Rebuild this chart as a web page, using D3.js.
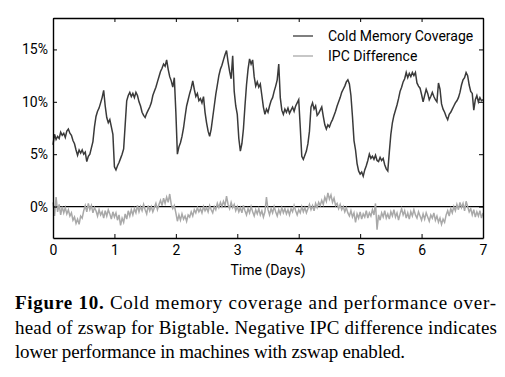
<!DOCTYPE html>
<html>
<head>
<meta charset="utf-8">
<script src="https://cdn.jsdelivr.net/npm/d3@7"></script>
<style>
  body { margin: 0; background: #fff; }
  svg text { font-family: Roboto, "Noto Sans", sans-serif; }
</style>
</head>
<body>
<div id="chart"></div>
<script>
// sample spacing of both series, in days
const STEP = 0.025;

const xTicks = [0, 1, 2, 3, 4, 5, 6, 7];
const yTicks = [0, 5, 10, 15];

const seriesNames = ["Cold Memory Coverage", "IPC Difference"];
const seriesColors = ["#3a3a3a", "#a9a9a9"];

// cold memory coverage (%), one value per STEP
const coldCoverage = [
  5.9, 6.9, 6.4, 6.7, 6.5, 7.1, 6.8, 7.0, 6.6, 7.2,
  7.4, 7.0, 6.8, 6.3, 6.0, 5.4, 4.9, 5.4, 5.1, 5.4,
  5.0, 5.2, 4.3, 4.8, 5.0, 5.6, 6.2, 7.6, 8.6, 9.1,
  9.4, 9.9, 10.4, 11.1, 9.6, 8.5, 8.0, 8.3, 7.6, 6.9,
  3.8, 3.5, 3.9, 4.2, 4.6, 5.0, 5.5, 7.8, 10.1, 10.6,
  10.9, 10.5, 10.8, 10.4, 10.9, 10.6, 10.0, 9.6, 9.0, 8.7,
  8.5, 8.9, 9.2, 9.5, 9.9, 10.6, 11.0, 11.4, 11.9, 12.4,
  12.9, 13.2, 13.6, 13.4, 14.0, 13.1, 12.4, 12.0, 11.4, 12.3,
  9.0, 5.0, 5.7, 6.1, 6.7, 7.5, 8.6, 9.6, 10.2, 10.8,
  11.3, 12.0, 11.2, 10.5, 10.8, 10.1, 10.3, 9.9, 10.5, 9.0,
  8.0, 7.2, 6.7, 7.4, 8.5, 9.6, 10.7, 11.6, 12.5, 13.1,
  13.5, 14.0, 14.5, 14.9, 13.8, 12.9, 12.2, 14.4, 11.0, 9.6,
  8.8, 6.5, 5.3, 6.0, 7.4, 9.6, 11.6, 13.1, 14.1, 13.6,
  14.0, 12.4, 11.5, 11.9, 11.4, 11.7, 10.6, 9.5, 8.8, 9.3,
  9.0, 9.6, 10.1, 10.4, 11.0, 11.5, 12.1, 13.6, 10.4, 9.2,
  8.8, 9.3, 9.0, 9.4, 8.9, 9.2, 9.5, 9.1, 9.6, 9.9,
  10.2, 7.6, 4.8, 4.5, 4.9, 5.3, 6.0, 7.2, 9.5, 9.9,
  9.3, 9.6, 8.7, 8.9, 9.2, 9.5, 8.6, 7.8, 7.4, 7.8,
  7.6, 8.0, 8.3, 8.7, 9.1, 9.6, 10.0, 10.4, 10.9, 11.2,
  11.5, 11.9, 12.1, 11.7, 10.6, 8.6, 6.3, 5.4, 4.1, 3.4,
  3.1, 3.3, 2.9, 3.5, 3.9, 4.4, 5.0, 4.6, 4.8, 4.5,
  4.9, 4.4, 4.3, 4.7, 4.4, 4.6, 4.0, 3.6, 3.4, 5.2,
  6.9, 8.0, 8.7, 9.2, 9.7, 10.3, 11.0, 11.4, 11.9, 12.2,
  12.8, 12.3, 12.7, 12.4, 12.8, 12.5, 12.8, 11.8, 11.5, 11.3,
  10.7, 10.0, 10.6, 11.2, 10.8, 10.2, 10.5, 10.9, 10.5, 10.2,
  10.0, 11.8, 11.2, 9.8, 9.3, 9.0, 8.6, 8.3, 8.8, 9.0,
  9.3, 9.6, 9.9, 10.1, 10.4, 10.9, 11.6, 12.1, 12.3, 12.8,
  12.5, 11.6, 11.0, 10.8, 9.2, 10.2, 10.6, 10.0, 10.4, 10.1,
  10.2
];

// IPC difference (%), one value per STEP
const ipcDiff = [
  0.4, -0.9, 0.9, -0.5, 0.2, -0.8, 0.0, -0.6, -0.1, -0.7,
  -0.3, -0.9, -0.6, -1.3, -1.0, -1.6, -1.2, -1.7, -0.9, -1.1,
  -0.4, 0.1, -0.5, 0.3, -0.3, 0.1, -0.6, -0.1, -0.4, -0.9,
  -0.3, -0.8, -0.5, -1.1, -0.4, -0.9, -0.3, -0.7, -1.2, -0.5,
  -1.0, -0.6, -1.3, -0.8, -1.8, -1.1, -1.5, -0.7, -1.2, -0.4,
  -0.9, -0.3, -0.8, -0.2, -0.6, 0.1, -0.5, 0.0, -0.4, 0.2,
  -0.3, -0.7, 0.1, -0.4, 0.0, -0.5, -0.1, 0.3, -0.3, 0.2,
  0.6, 0.1, 0.8, 0.3, 0.9, 0.4, 1.2, 0.2, -0.2, 0.1,
  -0.6, -1.4, -0.8, -1.3, -0.7, -1.2, -0.9, -1.4, -0.8, -1.0,
  -0.5, -0.9, -0.3, -0.6, -0.1, -0.5, -0.2, -0.6, 0.0, -0.4,
  -0.1, -0.5, 0.1, -0.3, -0.6, 0.0, -0.3, 0.3, -0.1, 0.4,
  0.0, 0.5, 0.1, 1.0, 0.2, -0.2, 0.4, -0.1, 0.2, -0.4,
  0.0, -0.5, -0.1, -0.6, 0.1, -0.4, -0.8, -0.2, -0.6, 0.0,
  -0.5, -0.9, -0.3, -0.7, -0.2, -0.8, -0.4, -1.0, -0.5, 0.9,
  -0.3, -0.8, -0.2, -0.6, 0.0, -0.5, -0.9, -0.3, -0.7, -0.1,
  -0.6, -0.2, -0.7, -0.3, -0.8, -0.2, -0.5, 0.1, -0.4, -0.8,
  -0.3, -0.6, 0.0, -0.5, -0.1, -0.6, -0.2, 0.2, -0.3, 0.1,
  -0.4, 0.3, -0.1, 0.4, 0.1, 0.6, 0.2, 0.9, 0.5, 1.3,
  0.7, 1.1, 0.4, 0.8, 0.1, 0.3, -0.2, 0.2, -0.3, 0.0,
  -0.5, -0.1, -0.6, -0.9, -0.4, -1.0, -0.6, -1.5, -0.7, -1.1,
  -0.5, -1.2, -0.7, -1.0, -0.4, -1.1, -0.6, -0.9, -0.3, -0.8,
  0.3, -2.2, -0.8, -1.3, -0.6, -1.0, -0.4, -1.1, -0.7, -1.2,
  -0.5, -0.9, -0.3, -1.0, -0.6, -1.3, -0.7, -0.2, -0.8, -0.4,
  -1.1, -0.6, -1.2, -0.5, -0.9, -0.3, -0.8, -1.1, -0.5, -0.9,
  -1.3, -0.7, -1.2, -0.6, -1.0, -1.4, -0.8, -1.1, -0.6, -1.3,
  -0.9, -1.5, -1.1, -1.7, -1.2, -1.5, -0.8, -0.4, -0.9, -0.2,
  -0.6, 0.0, -0.4, 0.2, -0.3, 0.4, -0.1, 0.3, -0.4, 0.5,
  0.0, -0.5, -0.2, -0.8, -0.3, -1.0, -0.5, -0.9, -0.4, -1.1,
  -0.6
];

const captionLines = [
  {bold: "Figure 10.", rest: " Cold memory coverage and performance over-"},
  {bold: "", rest: "head of zswap for Bigtable. Negative IPC difference indicates"},
  {bold: "", rest: "lower performance in machines with zswap enabled."}
];

const W = 505, H = 377;
const margin = {top: 18, right: 22, bottom: 139, left: 53};
const width = W - margin.left - margin.right,
      height = H - margin.top - margin.bottom;

const svg = d3.select("#chart")
  .append("svg")
    .attr("width", W)
    .attr("height", H);

const g = svg.append("g")
  .attr("transform", `translate(${margin.left},${margin.top})`);

const x = d3.scaleLinear().domain([0, 7]).range([0, width]);
const y = d3.scaleLinear().domain([-3, 18]).range([height, 0]);

// zero line
g.append("line")
  .attr("x1", 0).attr("x2", width)
  .attr("y1", y(0)).attr("y2", y(0))
  .attr("stroke", "#000").attr("stroke-width", 1.3);

// series
const line = d3.line()
  .x((d, i) => x(i * STEP))
  .y(d => y(d));

g.append("path")
  .datum(ipcDiff)
  .attr("fill", "none")
  .attr("stroke", seriesColors[1])
  .attr("stroke-width", 1.5)
  .attr("d", line);

g.append("path")
  .datum(coldCoverage)
  .attr("fill", "none")
  .attr("stroke", seriesColors[0])
  .attr("stroke-width", 1.5)
  .attr("d", line);

// axes, ticks pointing in on all four sides
const fmtPct = d => d + "%";
const axBottom = g.append("g")
  .attr("transform", `translate(0,${height})`)
  .call(d3.axisBottom(x).tickValues(xTicks).tickFormat(d3.format("d"))
    .tickSizeInner(-4).tickSizeOuter(0).tickPadding(7));
const axLeft = g.append("g")
  .call(d3.axisLeft(y).tickValues(yTicks).tickFormat(fmtPct)
    .tickSizeInner(-4).tickSizeOuter(0).tickPadding(5));
const axTop = g.append("g")
  .call(d3.axisTop(x).tickValues(xTicks).tickSizeInner(-4).tickSizeOuter(0).tickFormat(""));
const axRight = g.append("g")
  .attr("transform", `translate(${width},0)`)
  .call(d3.axisRight(y).tickValues(yTicks).tickSizeInner(-4).tickSizeOuter(0).tickFormat(""));

[axBottom, axLeft, axTop, axRight].forEach(a => {
  a.select(".domain").attr("stroke", "#000").attr("stroke-width", 1.4);
  a.selectAll(".tick line").attr("stroke", "#000").attr("stroke-width", 1);
  a.selectAll("text").style("font-size", "14px").attr("fill", "#000");
});

g.append("text")
  .attr("x", width / 2)
  .attr("y", height + 37)
  .attr("text-anchor", "middle")
  .style("font-size", "14px")
  .text("Time (Days)");

// legend
const legend = g.selectAll(".legend")
  .data(seriesNames)
  .join("g")
    .attr("class", "legend")
    .attr("transform", (d, i) => `translate(240,${18 + i * 20})`);

legend.append("line")
  .attr("x1", 0).attr("x2", 20)
  .attr("stroke", (d, i) => seriesColors[i])
  .attr("stroke-width", 1.3);

legend.append("text")
  .attr("x", 35)
  .attr("y", 5)
  .style("font-size", "14px")
  .text(d => d);

// caption
const capWidths = [481, 482, 390];
const cap = svg.selectAll(".cap")
  .data(captionLines)
  .join("text")
    .attr("class", "cap")
    .attr("x", 15)
    .attr("y", (d, i) => 309 + i * 24.5)
    .attr("textLength", (d, i) => capWidths[i])
    .attr("lengthAdjust", "spacing")
    .style("font-family", "'Liberation Serif', 'DejaVu Serif', serif")
    .style("font-size", "19px");

cap.append("tspan").style("font-weight", "bold").text(d => d.bold);
cap.append("tspan").text(d => d.rest);
</script>
</body>
</html>
